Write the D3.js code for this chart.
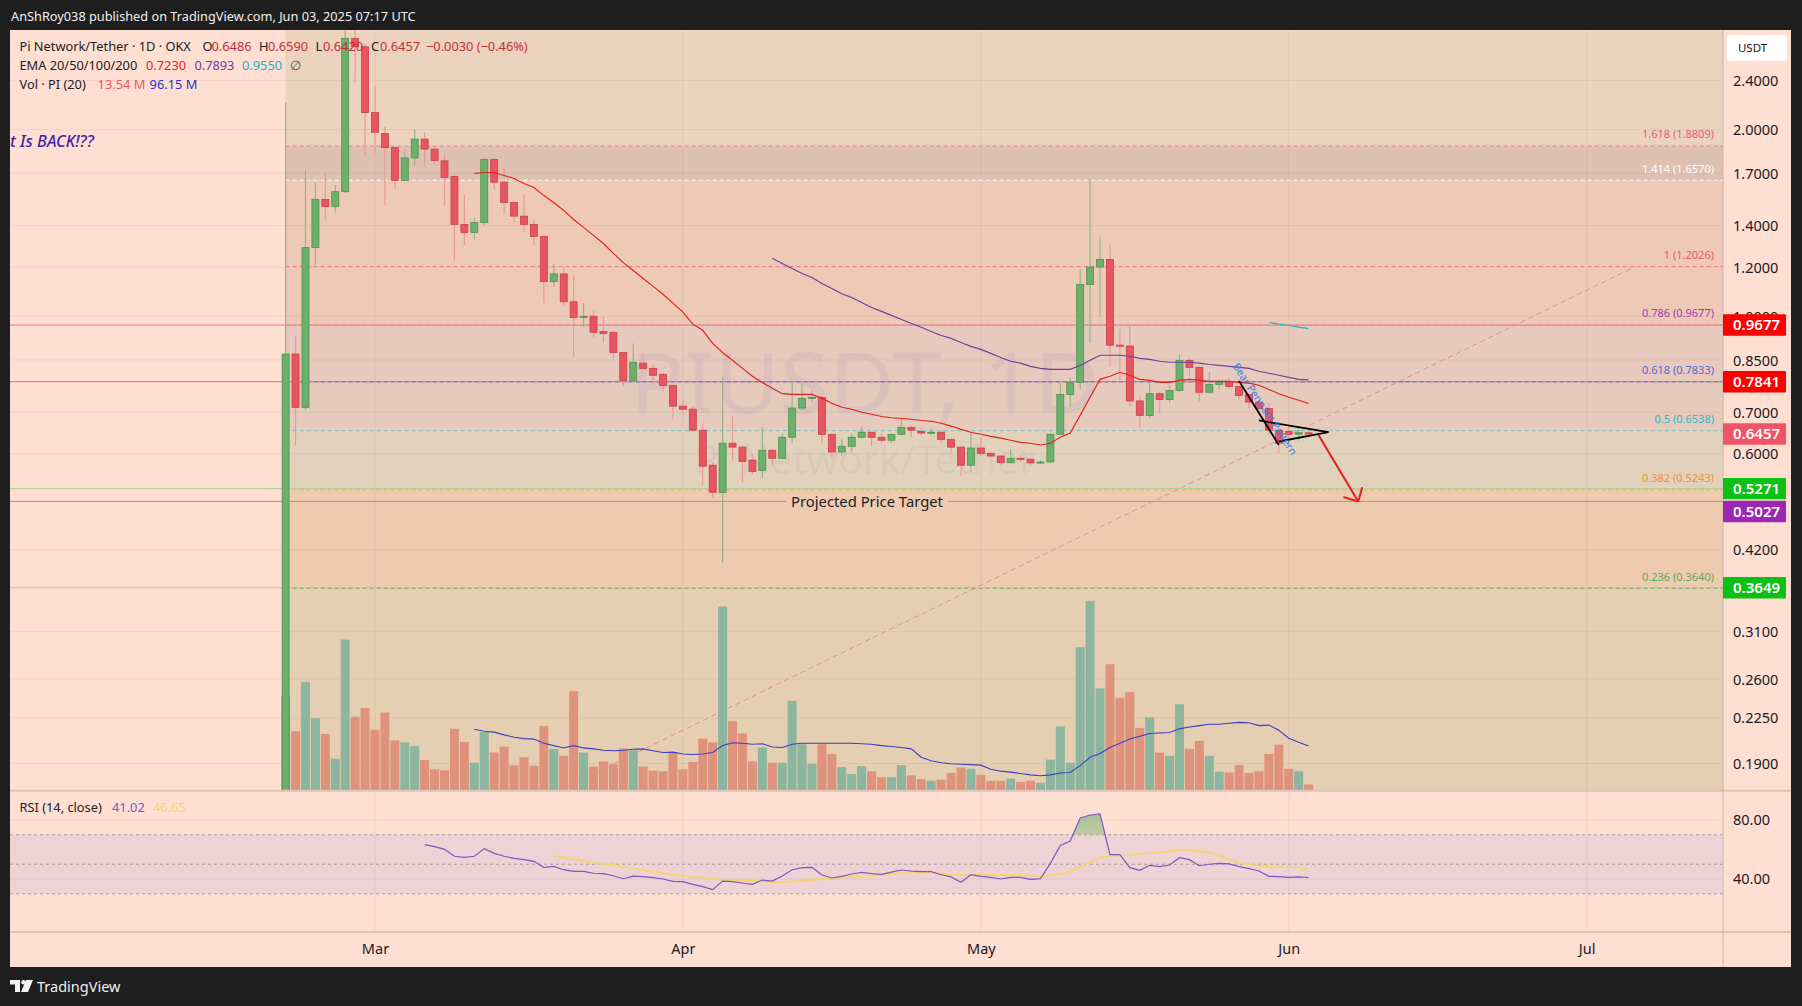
<!doctype html>
<html>
<head>
<meta charset="utf-8">
<script src="https://cdnjs.cloudflare.com/ajax/libs/d3/7.8.5/d3.min.js"></script>
<style>
  html, body { margin: 0; padding: 0; background: #1e1e1e; overflow: hidden; }
  svg { display: block; font-family: "Noto Sans", sans-serif; }
  .price-axis text, .rsi-axis text, .time-axis text { fill: #1a1a1f; font-size: 14.5px; font-family: "Noto Sans", sans-serif; }
  .price-axis path, .rsi-axis path, .time-axis path { display: none; }
</style>
</head>
<body>
<svg width="1802" height="1006"></svg>
<script>
var opens = [0.17,.869,.713,1.29,1.543,1.503,1.588,2.806,2.72,2.13,
  1.97,1.87,1.656,1.80,1.93,1.86,1.78,1.68,1.406,1.365,
  1.416,1.79,1.645,1.525,1.45,1.406,1.345,1.137,1.17,1.055,
  .995,1.0,.945,.942,.874,.788,.84,.824,.806,.773,
  .716,.708,.655,.575,.52,.624,.615,.586,.564,.608,
  .59,.638,.711,.737,.74,.645,.604,.617,.638,.65,
  .638,.631,.645,.662,.652,.648,.65,.633,.615,.575,
  .613,.601,.595,.581,.59,.588,.58,.582,.645,.748,
  .782,1.125,1.2,1.235,.898,.895,.73,.692,.75,.734,
  .759,.849,.827,.754,.776,.782,.77,.748,.727,.71,
  .655,.652,.645,.6486];
var highs = [2.21,.93,1.718,1.645,1.70,1.626,3.0,2.95,2.75,2.35,
  2.02,1.875,1.86,2.0,1.98,1.87,1.83,1.69,1.57,1.44,
  1.80,1.80,1.73,1.53,1.57,1.43,1.355,1.215,1.2,1.163,
  1.05,1.02,1.0,.945,.875,.904,.871,.836,.81,.775,
  .73,.716,.672,.581,.797,.689,.62,.598,.662,.612,
  .647,.788,.78,.759,.745,.647,.633,.647,.664,.652,
  .647,.647,.682,.667,.66,.657,.652,.635,.617,.65,
  .638,.605,.597,.61,.598,.59,.586,.647,.78,.795,
  1.19,1.665,1.345,1.305,.953,.967,.745,.782,.755,.773,
  .868,.858,.83,.812,.79,.795,.773,.75,.73,.725,
  .66,.665,.665,.659];
var lows = [.165,.619,.705,1.21,1.427,1.47,1.58,2.38,1.81,1.83,
  1.51,1.60,1.65,1.75,1.75,1.76,1.505,1.23,1.30,1.33,
  1.40,1.60,1.46,1.416,1.365,1.30,1.05,1.115,1.04,.858,
  .96,.925,.907,.855,.77,.785,.818,.782,.756,.682,
  .695,.652,.534,.51,.40,.586,.539,.556,.548,.575,
  .588,.624,.705,.725,.624,.592,.597,.604,.636,.617,
  .624,.624,.642,.638,.643,.643,.624,.601,.552,.56,
  .595,.592,.575,.578,.582,.573,.577,.58,.643,.714,
  .762,.905,1.0,.83,.79,.716,.66,.684,.698,.724,
  .755,.797,.729,.75,.762,.763,.732,.71,.70,.645,
  .601,.615,.63,.642];
var closes = [.869,.713,1.29,1.543,1.503,1.588,2.806,2.72,2.13,1.98,
  1.87,1.656,1.80,1.93,1.86,1.783,1.674,1.406,1.365,1.416,
  1.79,1.645,1.525,1.45,1.406,1.345,1.137,1.17,1.055,.995,
  1.0,.942,.938,.874,.788,.843,.824,.803,.773,.716,
  .708,.655,.573,.52,.624,.615,.583,.562,.608,.59,
  .638,.711,.737,.74,.645,.604,.617,.638,.65,.638,
  .631,.645,.662,.655,.648,.65,.633,.615,.575,.613,
  .601,.595,.581,.59,.588,.58,.582,.645,.748,.782,
  1.125,1.2,1.235,.898,.895,.73,.692,.75,.734,.759,
  .849,.827,.754,.776,.782,.77,.745,.727,.71,.655,
  .624,.645,.6487,.6457];
// volume in millions
var volumes = [204,128,234,156,122,69,325,159,178,131,
  168,108,104,96,66,46,44,133,105,60,
  126,82,95,55,72,54,139,90,75,214,
  82,52,63,57,91,87,52,43,42,82,
  46,62,112,104,396,150,123,63,93,60,
  60,193,100,58,100,79,51,36,53,42,
  29,29,55,33,25,21.5,24,38,50,47,
  34,21,21,26,19,21.5,17,67,138,60,
  309,408,220,272,200,212,135,158,82,75,
  186,90,107,75,41,39,55,38,42,79,
  99,47,42,13.54];
var volMa = [132,128,126,120,115,112,111,102,97,92,97,92,90,87,86,87,89,90,86,82,83,79,78,79,82,
  97,103,102,100,101,94,93,100,102,102,102,102,102,102,101,100,97,95,93,90,72,64.5,60,58,57,56,55,
  46,42,40,37,34,32,34,38,39,54,72,80,93,102,111,117,123,124,125,133,137,140,143,143,145,147,146,
  140,141,130,113,104,96.15];
var volMaStart = 19;
var ema20 = [1.70,1.705,1.705,1.686,1.668,1.637,1.613,1.565,1.525,1.481,1.432,1.391,1.35,1.31,1.263,1.22,1.185,1.15,1.117,1.085,
  1.05,1.015,.971,.949,.904,.874,.849,.824,.80,.782,.765,.75,.748,.748,.748,.737,.724,.713,.708,.70,
  .695,.689,.686,.684,.682,.679,.677,.672,.665,.657,.65,.645,.64,.636,.631,.626,.624,.62,.624,.638,
  .648,.692,.74,.791,.80,.812,.803,.791,.788,.782,.782,.788,.791,.788,.785,.785,.785,.782,.78,.774,
  .762,.75,.74,.732,.723];
var ema20Start = 19;
var ema50 = [1.24,1.216,1.194,1.172,1.155,1.129,1.108,1.087,1.072,1.052,1.033,1.018,1.003,.988,.973,.96,.945,.931,.921,.907,
  .894,.884,.871,.858,.846,.84,.83,.824,.821,.821,.821,.833,.849,.865,.865,.865,.862,.855,.852,.846,
  .843,.843,.843,.84,.836,.833,.83,.827,.824,.815,.809,.803,.797,.791,.7893];
var ema50Start = 49;
var ema100 = [.977,.971,.966,.96,.955];
var ema100Start = 99;
var rsi = [63.3,61.9,60.1,55.4,54.7,55.4,60.6,57.4,55.4,54,53.1,52,47.9,48.6,46.3,45.2,45.2,43.9,43.6,42.2,
  40.2,42,41.6,40.9,40,38.4,38.2,36.4,34.8,32.8,38.6,38.2,37.3,36.4,39.3,38.6,42,46.3,47.7,47.9,
  42.7,40.7,41.8,43.4,44.5,43.6,43.2,44.7,46.1,45.4,45,45,42.9,41.4,37.8,42.9,41.8,41.1,40,41.1,
  41.1,39.8,40.2,50.6,62.8,65.8,81.4,83.4,84.1,56.5,56.5,47.7,45.9,49.3,48.4,49.5,54.4,53.1,49,50,
  50.6,50.2,48.4,47,45.4,41.8,41.6,41.1,41.4,41.02];
var rsiStart = 14;
var rsiMa = [55.4,54.4,53.4,52.2,51,50.2,49.5,48.1,47,46.1,45,44.1,43.2,42.2,41.4,40.9,40.2,39.5,39.3,39.1,
  38.8,38.4,37.8,38,38.4,38.8,39.5,40,40.5,40.9,41.4,41.8,42.2,42.7,43.4,43.9,44.3,44.3,44.3,43.9,
  43.2,42.9,42.7,42.7,42.7,42.7,42.7,42.7,42.4,41.6,42.4,43.6,45,47.9,51,54.4,55.6,55.8,56.2,56.9,
  57.6,58,59,59.6,59.8,59,57.8,56.2,53.4,51,49.8,49.1,48.4,48.1,48.1,47.4,46.65];
var rsiMaStart = 27;

var priceTicks = [2.4,2.0,1.7,1.4,1.2,1.0,.85,.7,.6,.42,.31,.26,.225,.19];
var rsiTicks = [80,40];
var rsiLevels = [70,50,30];
var monthTicks = [new Date(Date.UTC(2025,2,1)),new Date(Date.UTC(2025,3,1)),new Date(Date.UTC(2025,4,1)),new Date(Date.UTC(2025,5,1)),new Date(Date.UTC(2025,6,1))];

// fib retracement levels, top to bottom
var fibRatios = ["1.618","1.414","1","0.786","0.618","0.5","0.382","0.236"];
var fibPrices = [1.8809,1.6570,1.2026,.9677,.7833,.6538,.5243,.3640];
var fibColors = ["#e2607f","#ffffff","#ea5a66","#a23cb4","#4a6fd8","#2fb5c6","#ee8f36","#5da85d"];
var fibAlpha = [0.65,0.95,0.65,0.2,0.75,0.65,0.55,0.75];
var fibBands = ["#ecd3bd","#dfc1b1","#edc9b6","#edc9b6","#e8c9bd","#e6cabc","#e2d2bc","#eecab0","#e5ceb1"];

// horizontal rays with their axis tags
var rayPrices = [.9677,.7841,.5271,.5027,.3649];
var rayColors = ["#e87a80","#e2686e","#a8cf8c","#b98aa0","#a8d49a"];
var tagPrices = [.9677,.7841,.6457,.5271,.5027,.3649];
var tagColors = ["#ff0000","#ff0000","#f15467","#0cc014","#9c27b0","#0cc014"];
var tagOffsets = [0,0,0,0,10,0];

var svg = d3.select("svg");

var x = d3.scaleUtc().domain([monthTicks[0], monthTicks[4]]).range([375, 1586.7]);
var y = d3.scaleLog().domain([2.889, 0.1714]).range([30.5, 791.2]);
var yVol = d3.scaleLinear().domain([0, 400]).range([790.7, 604.7]);
var yRsi = d3.scaleLinear().domain([100, 0]).range([790.5, 938]);

function day(i) { return new Date(Date.UTC(2025, 1, 20) + i * 864e5); }

var L = 10, R = 1723, RR = 1791, T = 30, M = 790.7, B = 932, F = 967;

var defs = svg.append("defs");
defs.append("clipPath").attr("id", "mainClip").append("rect").attr("x", L).attr("y", T).attr("width", R - L).attr("height", M - T);
defs.append("clipPath").attr("id", "hotClip").append("rect").attr("x", L).attr("y", 790).attr("width", R - L).attr("height", yRsi(70) - 790);
var grad = defs.append("linearGradient").attr("id", "hot").attr("x1", 0).attr("x2", 0).attr("y1", 0).attr("y2", 1);
grad.append("stop").attr("offset", "0%").attr("stop-color", "#6fae6a").attr("stop-opacity", 0.6);
grad.append("stop").attr("offset", "100%").attr("stop-color", "#6fae6a").attr("stop-opacity", 0);

// chart background
svg.append("rect").attr("x", L).attr("y", T).attr("width", RR - L).attr("height", F - T).attr("fill", "#fedfd2");

// fib bands, first candle to the right edge
var bandEdges = [y.domain()[0]].concat(fibPrices, [y.domain()[1]]);
var bandX = x(day(0));
svg.append("g").selectAll("rect").data(fibBands).enter().append("rect")
  .attr("x", bandX).attr("width", R - bandX)
  .attr("y", function (d, i) { return y(bandEdges[i]); })
  .attr("height", function (d, i) { return y(bandEdges[i + 1]) - y(bandEdges[i]); })
  .attr("fill", function (d) { return d; });

// rsi band
svg.append("rect").attr("x", L).attr("width", R - L).attr("y", yRsi(70)).attr("height", yRsi(30) - yRsi(70)).attr("fill", "#eed2d5");

// grid
var grid = svg.append("g").attr("stroke", "rgba(110,90,80,0.08)").attr("stroke-width", 1);
grid.selectAll(".h").data(priceTicks).enter().append("line").attr("x1", L).attr("x2", R)
  .attr("y1", function (d) { return y(d); }).attr("y2", function (d) { return y(d); });
grid.selectAll(".r").data(rsiTicks).enter().append("line").attr("x1", L).attr("x2", R)
  .attr("y1", function (d) { return yRsi(d); }).attr("y2", function (d) { return yRsi(d); });
grid.selectAll(".v").data(monthTicks).enter().append("line").attr("y1", T).attr("y2", B)
  .attr("x1", function (d) { return x(d); }).attr("x2", function (d) { return x(d); });

// watermark
var mark = svg.append("g").attr("text-anchor", "middle").attr("fill", "rgba(96,76,170,0.075)");
mark.append("text").attr("x", 865).attr("y", 413).attr("font-size", 84)
  .attr("textLength", 470).attr("lengthAdjust", "spacingAndGlyphs").text("PIUSDT, 1D");
mark.append("text").attr("x", 865).attr("y", 474).attr("font-size", 40).text("Pi Network/Tether");

var main = svg.append("g").attr("clip-path", "url(#mainClip)");

// rays
main.selectAll(".ray").data(rayPrices).enter().append("line")
  .attr("x1", L).attr("x2", R)
  .attr("y1", function (d) { return y(d); }).attr("y2", function (d) { return y(d); })
  .attr("stroke", function (d, i) { return rayColors[i]; }).attr("stroke-width", 1);

// fib lines
main.selectAll(".fib").data(fibPrices).enter().append("line")
  .attr("x1", bandX).attr("x2", R)
  .attr("y1", function (d) { return y(d); }).attr("y2", function (d) { return y(d); })
  .attr("stroke", function (d, i) { return fibColors[i]; })
  .attr("stroke-opacity", function (d, i) { return fibAlpha[i]; })
  .attr("stroke-width", 1).attr("stroke-dasharray", "4 3");

// fib trend line
var trendDays = [27.4, 135.9], trendPrices = [.1714, 1.2026];
main.append("line")
  .attr("x1", x(day(trendDays[0]))).attr("y1", y(trendPrices[0]))
  .attr("x2", x(day(trendDays[1]))).attr("y2", y(trendPrices[1]))
  .attr("stroke", "#e8777c").attr("stroke-opacity", 0.8).attr("stroke-width", 1).attr("stroke-dasharray", "5 4");

// volume
var volBars = main.append("g");
volBars.selectAll("rect").data(volumes).enter().append("rect")
  .attr("x", function (d, i) { return x(day(i)) - 4.5; })
  .attr("width", 9)
  .attr("y", function (d) { return yVol(d); })
  .attr("height", function (d) { return yVol(0) - yVol(d); })
  .attr("fill", function (d, i) { return closes[i] >= opens[i] ? "#8cb69f" : "#e0937c"; });

main.append("path").datum(volMa)
  .attr("fill", "none").attr("stroke", "#3a3fc4").attr("stroke-width", 1.1)
  .attr("d", d3.line().x(function (d, i) { return x(day(i + volMaStart)); }).y(function (d) { return yVol(d); }));

// candles
var candles = main.append("g").selectAll("g").data(opens).enter().append("g");
candles.append("line")
  .attr("x1", function (d, i) { return x(day(i)); }).attr("x2", function (d, i) { return x(day(i)); })
  .attr("y1", function (d, i) { return y(highs[i]); }).attr("y2", function (d, i) { return y(lows[i]); })
  .attr("stroke", function (d, i) { return closes[i] >= d ? "#97b388" : "#eb9a92"; }).attr("stroke-width", 1.2);
candles.append("rect")
  .attr("x", function (d, i) { return x(day(i)) - 3.5; }).attr("width", 7)
  .attr("y", function (d, i) { return y(Math.max(d, closes[i])); })
  .attr("height", function (d, i) { return Math.max(1, Math.abs(y(d) - y(closes[i]))); })
  .attr("fill", function (d, i) { return closes[i] >= d ? "#6bb06b" : "#e8545f"; })
  .attr("stroke", function (d, i) { return closes[i] >= d ? "#4f9350" : "#c9434e"; }).attr("stroke-width", 0.8);

// emas
function emaLine(values, start, color, width) {
  main.append("path").datum(values).attr("fill", "none").attr("stroke", color).attr("stroke-width", width)
    .attr("d", d3.line().x(function (d, i) { return x(day(i + start)); }).y(function (d) { return y(d); }));
}
emaLine(ema20, ema20Start, "#e3201e", 1.15);
emaLine(ema50, ema50Start, "#6f3f9e", 1.15);
emaLine(ema100, ema100Start, "#2fb4c4", 1.2);

// pennant drawing
var pennantDays = [[96, 100], [100, 105], [98, 105]];
var pennantPrices = [[.786, .62], [.628, .65], [.679, .65]];
main.selectAll(".pen").data(pennantDays).enter().append("line")
  .attr("x1", function (d) { return x(day(d[0])); }).attr("x2", function (d) { return x(day(d[1])); })
  .attr("y1", function (d, i) { return y(pennantPrices[i][0]); }).attr("y2", function (d, i) { return y(pennantPrices[i][1]); })
  .attr("stroke", "#000").attr("stroke-width", 1.8);

// projected move arrow
var arrowDays = [[104, 108], [108.4, 108], [106.5, 108]];
var arrowPrices = [[.643, .5027], [.53, .5027], [.511, .5027]];
main.selectAll(".arrow").data(arrowDays).enter().append("line")
  .attr("x1", function (d) { return x(day(d[0])); }).attr("x2", function (d) { return x(day(d[1])); })
  .attr("y1", function (d, i) { return y(arrowPrices[i][0]); }).attr("y2", function (d, i) { return y(arrowPrices[i][1]); })
  .attr("stroke", "#e2231f").attr("stroke-width", 2);

// text on the chart
svg.append("text").attr("transform", "translate(" + x(day(98.6)) + "," + y(.7085) + ") rotate(56.6)")
  .attr("text-anchor", "middle").attr("dy", "0.35em").attr("fill", "#2f7fea").attr("font-size", 10.6).text("Bear Pennant Pattern");

svg.append("rect").attr("x", 786).attr("y", y(.5027) - 9).attr("width", 162).attr("height", 18).attr("fill", "#eecab0");
svg.append("text").attr("x", 867).attr("y", y(.5027)).attr("dy", "0.35em").attr("text-anchor", "middle")
  .attr("fill", "#1d1d24").attr("font-size", 14.8).text("Projected Price Target");

svg.append("text").attr("x", 10).attr("y", 147).attr("fill", "#4a1fa6").attr("font-size", 16.3)
  .attr("font-style", "italic").attr("font-weight", 500).text("t Is BACK!??");

// fib labels
svg.append("g").attr("text-anchor", "end").attr("font-size", 11).selectAll("text").data(fibPrices).enter().append("text")
  .attr("x", 1714).attr("y", function (d) { return y(d) - 11.5; }).attr("dy", "0.35em")
  .attr("fill", function (d, i) { return fibColors[i]; })
  .text(function (d, i) { return fibRatios[i] + " (" + d3.format(".4f")(d) + ")"; });

// rsi pane
svg.selectAll(".rl").data(rsiLevels).enter().append("line")
  .attr("x1", L).attr("x2", R)
  .attr("y1", function (d) { return yRsi(d); }).attr("y2", function (d) { return yRsi(d); })
  .attr("stroke", "#a89a98").attr("stroke-width", 1).attr("stroke-dasharray", "3 3");

var rsiX = function (d, i) { return x(day(i + rsiStart)); };
svg.append("path").datum(rsi).attr("clip-path", "url(#hotClip)").attr("fill", "url(#hot)")
  .attr("d", d3.area().x(rsiX).y0(yRsi(70)).y1(function (d) { return yRsi(d); }));
svg.append("path").datum(rsiMa).attr("fill", "none").attr("stroke", "#f6d56e").attr("stroke-width", 1.8)
  .attr("d", d3.line().x(function (d, i) { return x(day(i + rsiMaStart)); }).y(function (d) { return yRsi(d); }));
svg.append("path").datum(rsi).attr("fill", "none").attr("stroke", "#7e57c2").attr("stroke-width", 1.2)
  .attr("d", d3.line().x(rsiX).y(function (d) { return yRsi(d); }));

// pane separators
var seps = svg.append("g").attr("stroke", "#d9c6b8").attr("stroke-width", 2);
seps.append("line").attr("x1", L).attr("x2", RR).attr("y1", M).attr("y2", M);
seps.append("line").attr("x1", L).attr("x2", RR).attr("y1", B).attr("y2", B);
svg.append("line").attr("x1", R).attr("x2", R).attr("y1", T).attr("y2", F).attr("stroke", "#c9b4a6").attr("stroke-width", 1);

// axes
svg.append("g").attr("class", "price-axis").attr("transform", "translate(" + R + ",0.4)")
  .call(d3.axisRight(y).tickValues(priceTicks).tickSize(0).tickPadding(10).tickFormat(d3.format(".4f")));
svg.append("g").attr("class", "rsi-axis").attr("transform", "translate(" + R + ",0)")
  .call(d3.axisRight(yRsi).tickValues(rsiTicks).tickSize(0).tickPadding(10).tickFormat(d3.format(".2f")));
svg.append("g").attr("class", "time-axis").attr("transform", "translate(0," + B + ")")
  .call(d3.axisBottom(x).tickValues(monthTicks).tickSize(0).tickPadding(12).tickFormat(d3.utcFormat("%b")));

// price tags
var tags = svg.append("g").selectAll("g").data(tagPrices).enter().append("g")
  .attr("transform", function (d, i) { return "translate(" + R + "," + (y(d) + tagOffsets[i]) + ")"; });
tags.append("rect").attr("x", 0).attr("y", -10.7).attr("width", 63).attr("height", 21.4).attr("rx", 1)
  .attr("fill", function (d, i) { return tagColors[i]; });
tags.append("text").attr("x", 10).attr("dy", "0.35em").attr("fill", "#fff").attr("font-size", 15).attr("font-weight", 600)
  .text(function (d) { return d3.format(".4f")(d); });

// currency button
svg.append("rect").attr("x", 1727).attr("y", 35).attr("width", 60).attr("height", 26).attr("rx", 4).attr("fill", "#fff");
svg.append("text").attr("x", 1752.5).attr("y", 48).attr("dy", "0.35em").attr("text-anchor", "middle")
  .attr("font-size", 11.5).attr("fill", "#131722").text("USDT");

// legend rows: text, x, baseline row, colour
var legendText = ["Pi Network/Tether · 1D · OKX","O","0.6486","H","0.6590","L","0.6420","C","0.6457","−0.0030 (−0.46%)",
  "EMA 20/50/100/200","0.7230","0.7893","0.9550","∅",
  "Vol · PI (20)","13.54 M","96.15 M",
  "RSI (14, close)","41.02","46.65"];
var legendX = [19.5,202.5,211.5,259,268,315.5,323,371,380,426,
  19.5,146,194.4,242,290,
  19.5,97.6,149.6,
  19.5,112,153];
var legendY = [47,47,47,47,47,47,47,47,47,47,66,66,66,66,66,85,85,85,808,808,808];
var legendFill = ["#222","#222","#c0313d","#222","#c0313d","#222","#c0313d","#222","#c0313d","#c0313d",
  "#222","#e8201e","#6f3f9e","#22aec4","#555",
  "#222","#ea5a60","#2a2fd0",
  "#222","#7e57c2","#f6d56e"];
svg.append("g").attr("font-size", 12.8).selectAll("text").data(legendText).enter().append("text")
  .attr("x", function (d, i) { return legendX[i]; })
  .attr("y", function (d, i) { return legendY[i]; })
  .attr("dy", "0.35em")
  .attr("fill", function (d, i) { return legendFill[i]; })
  .text(function (d) { return d; });

// header and footer
svg.append("text").attr("x", 11).attr("y", 17).attr("dy", "0.35em").attr("fill", "#f0f0f0").attr("font-size", 12.75)
  .text("AnShRoy038 published on TradingView.com, Jun 03, 2025 07:17 UTC");
var logo = svg.append("g").attr("fill", "#f2f2f2");
logo.append("path").attr("d", "M10 980H20V992H15V984.5H10Z");
logo.append("circle").attr("cx", 23.5).attr("cy", 982.3).attr("r", 2.3);
logo.append("path").attr("d", "M26 980H33L28 992H21Z");
svg.append("text").attr("x", 37).attr("y", 987).attr("dy", "0.35em").attr("fill", "#f0f0f0").attr("font-size", 14.5)
  .text("TradingView");
</script>
</body>
</html>
